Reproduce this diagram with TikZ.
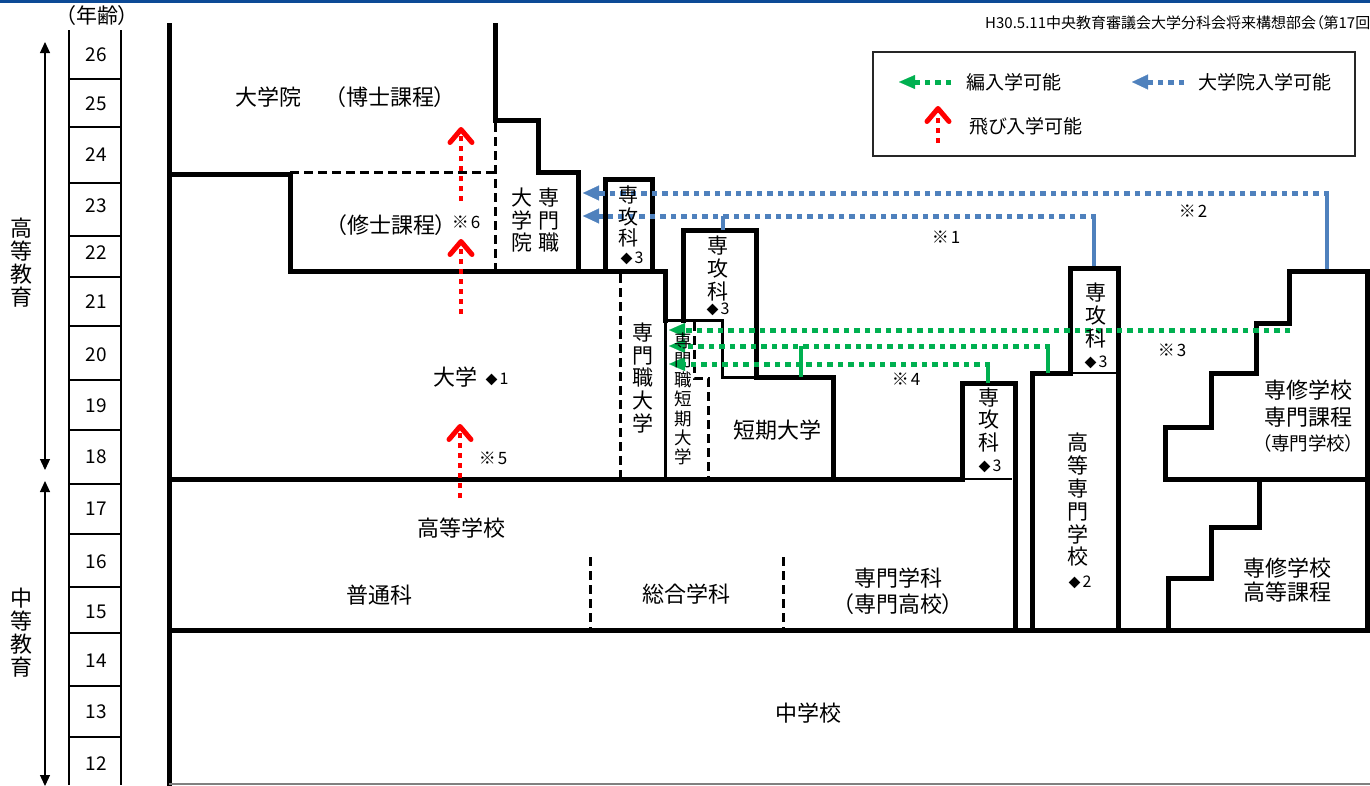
\documentclass[tikz,border=0pt]{standalone}
\usepackage{fontspec}
\setmainfont{Noto Sans CJK JP}[RawFeature=+palt]
\usetikzlibrary{arrows.meta}
\definecolor{bl}{RGB}{79,129,189}
\definecolor{gr}{RGB}{0,176,80}
\definecolor{rd}{RGB}{255,0,0}
\definecolor{topbar}{RGB}{12,74,150}
\newcommand{\dmd}[1]{{\fontsize{12}{12}\selectfont ◆}\kern2pt #1}
\newcommand{\kome}[1]{※\kern2pt #1}
\begin{document}
\begin{tikzpicture}[x=1pt,y=-1pt,
  wall/.style={line width=5pt, line cap=rect, line join=miter},
  midwall/.style={line width=3pt, line cap=rect},
  thinwall/.style={line width=1.6pt},
  dwall/.style={line width=3pt, dash pattern=on 9pt off 5pt},
  agecol/.style={line width=2.5pt},
  sepline/.style={line width=2pt},
  bflow/.style={draw=bl, line width=5pt, dash pattern=on 5.5pt off 5pt, -{Triangle[length=16pt,width=15pt,line width=0.1pt]}},
  gflow/.style={draw=gr, line width=5pt, dash pattern=on 5.5pt off 5pt, -{Triangle[length=16pt,width=14pt,line width=0.1pt]}},
  rflow/.style={draw=rd, line width=4.5pt, dash pattern=on 5pt off 5pt, -{Straight Barb[length=13pt,width=22pt,line width=5pt,round]}},
  bstem/.style={draw=bl, line width=4pt},
  gstem/.style={draw=gr, line width=4pt},
  eduarrow/.style={line width=1.2pt, {Triangle[length=11pt,width=10pt]}-{Triangle[length=11pt,width=10pt]}},
  lab/.style={inner sep=0pt, font=\fontsize{22}{24}\selectfont},
  num/.style={inner sep=0pt, font=\fontsize{19}{20}\selectfont},
  note/.style={inner sep=0pt, font=\fontsize{17}{18}\selectfont},
  dia/.style={inner sep=0pt, font=\fontsize{16}{16}\selectfont},
  leg/.style={inner sep=0pt, font=\fontsize{19}{20}\selectfont},
  vst/.style 2 args={inner sep=0pt, align=center, font=\fontsize{#1}{#2}\selectfont}
]
\useasboundingbox (0,0) rectangle (1370,785);
\fill[topbar] (0,0) rectangle (1370,3);

% ---------- age column ----------
\draw[agecol] (69,30) -- (69,785) (121,30) -- (121,785);
\foreach \y in {79,127,183,236,277,326,380,430,484,534,587,633,686,737}
  \draw[sepline] (69,\y) -- (121,\y);
\foreach \a/\y in {26/55,25/104,24/155,23/206,22/253,21/302,20/355,19/406,18/457,17/509,16/562,15/612,14/661,13/712,12/764}
  \node[num] (age\a) at (96,\y) {\a};
\node[inner sep=0pt, font=\fontsize{21}{22}\selectfont] (nenrei) at (97,16) {（年齢）};

\coordinate (e1t) at (45,42);
\coordinate (e1b) at (45,470);
\coordinate (e2t) at (45,481);
\coordinate (e2b) at (45,786);
\draw[eduarrow] (e1t) -- (e1b);
\draw[eduarrow] (e2t) -- (e2b);
\node[vst={22}{23}] (kotokyoiku) at (21,263) {高\\等\\教\\育};
\node[vst={22}{23}] (chutokyoiku) at (21,633) {中\\等\\教\\育};

% ---------- walls ----------
\draw[wall] (169,25) -- (169,785);
\draw[wall] (495,25) -- (495,120) -- (538,120) -- (538,172) -- (578,172) -- (578,271);
\draw[wall] (169,174) -- (290,174) -- (290,271) -- (665,271) -- (665,320);
\draw[wall] (605,271) -- (605,179) -- (652,179) -- (652,271);
\draw[wall] (683,320) -- (683,230) -- (756,230) -- (756,377) -- (833,377) -- (833,479);
\draw[midwall] (665,320) -- (665,479);
\draw[midwall] (665,320) -- (722,320) -- (722,377) -- (756,377);
\draw[dwall] (495,123) -- (495,271);
\draw[dwall] (290,172) -- (495,172);
\draw[dwall] (620,274) -- (620,479);
\draw[dwall] (694,322) -- (694,378) -- (708,378) -- (708,479);
\draw[wall] (169,479) -- (962,479);
\draw[wall] (962,479) -- (962,383) -- (1015,383) -- (1015,630);
\draw[thinwall] (962,479) -- (1012,479);
\draw[wall] (1032,630) -- (1032,373) -- (1070,373) -- (1070,268) -- (1118,268) -- (1118,630);
\draw[thinwall] (1070,373) -- (1118,373);
\draw[wall] (1367,630) -- (1367,271) -- (1289,271) -- (1289,323) -- (1256,323) -- (1256,373) -- (1211,373) -- (1211,427) -- (1165,427) -- (1165,479) -- (1367,479);
\draw[wall] (1259,479) -- (1259,527) -- (1211,527) -- (1211,578) -- (1168,578) -- (1168,630);
\draw[wall] (169,630) -- (1372,630);
\draw[dwall] (590,557) -- (590,630);
\draw[dwall] (783,557) -- (783,630);
\draw[gray, line width=1.5pt] (169,784) -- (1370,784);

% ---------- flows ----------
\coordinate (bA0) at (1327,269); \coordinate (bA1) at (1327,193); \coordinate (bAt) at (583,193);
\coordinate (bB0) at (1094,266); \coordinate (bB1) at (1094,216); \coordinate (bBt) at (583,216);
\coordinate (bC0) at (723,230);  \coordinate (bC1) at (723,216);
\draw[bstem] (bA0) -- (bA1);
\draw[bflow] ([xshift=2pt]bA1) -- (bAt);
\draw[bstem] (bB0) -- (bB1);
\draw[bflow] ([xshift=2pt]bB1) -- (bBt);
\draw[bstem] (bC0) -- (bC1);

\coordinate (gA0) at (1290,330); \coordinate (gAt) at (669,330);
\coordinate (gB0) at (1048,373); \coordinate (gB1) at (1048,346); \coordinate (gBt) at (669,346);
\coordinate (gC0) at (801,377);  \coordinate (gC1) at (801,346);
\coordinate (gD0) at (988,383);  \coordinate (gD1) at (988,364); \coordinate (gDt) at (669,364);
\draw[gflow] (gA0) -- (gAt);
\draw[gstem] (gB0) -- (gB1);
\draw[gflow] ([xshift=2pt]gB1) -- (gBt);
\draw[gstem] (gC0) -- (gC1);
\draw[gstem] (gD0) -- (gD1);
\draw[gflow] ([xshift=2pt]gD1) -- (gDt);

\coordinate (rA0) at (461,314); \coordinate (rAt) at (461,239);
\coordinate (rB0) at (461,201); \coordinate (rBt) at (461,127);
\coordinate (rC0) at (460,498); \coordinate (rCt) at (460,424);
\draw[rflow] (rA0) -- (rAt);
\draw[rflow] (rB0) -- (rBt);
\draw[rflow] (rC0) -- (rCt);

% ---------- labels ----------
\node[lab] (daigakuin) at (268,97) {大学院};
\node[lab] (hakushi) at (390,97) {（博士課程）};
\node[lab] (shushi) at (391,225) {（修士課程）};
\node[note] (k6) at (466,222) {\kome{6}};
\node[vst={21}{22.5}] (sdin1) at (522,220.5) {大\\学\\院};
\node[vst={21}{22.5}] (sdin2) at (549,220.5) {専\\門\\職};
\node[vst={20}{21.5}] (sk1) at (628,216.5) {専\\攻\\科};
\node[dia] (sk1d) at (632,258) {\dmd{3}};
\node[vst={21}{23}] (sk2) at (718,269) {専\\攻\\科};
\node[dia] (sk2d) at (718,309) {\dmd{3}};
\node[vst={21}{22.75}] (sdd) at (643,378) {専\\門\\職\\大\\学};
\node[vst={17.5}{19.4}] (sdt) at (683,399) {専\\門\\職\\短\\期\\大\\学};
\node[lab] (tanki) at (777,430) {短期大学};
\node[lab] (daigaku) at (455,377) {大学};
\node[dia] (daigakud) at (497,379) {\dmd{1}};
\node[note] (k5) at (493,458) {\kome{5}};
\node[vst={21}{22.5}] (sk3) at (989,420) {専\\攻\\科};
\node[dia] (sk3d) at (990,466) {\dmd{3}};
\node[vst={21}{23}] (sk4) at (1096,316) {専\\攻\\科};
\node[dia] (sk4d) at (1096,362) {\dmd{3}};
\node[vst={21}{22.8}] (kosen) at (1078,500) {高\\等\\専\\門\\学\\校};
\node[dia] (kosend) at (1080,582) {\dmd{2}};
\node[lab] (senshu1) at (1308,390) {専修学校};
\node[lab] (senmon1) at (1308,417) {専門課程};
\node[inner sep=0pt, font=\fontsize{18.5}{20}\selectfont] (senmon2) at (1308,443) {（専門学校）};
\node[lab] (senshu2) at (1287,568) {専修学校};
\node[lab] (koto2) at (1287,592) {高等課程};
\node[lab] (kokou) at (461,528) {高等学校};
\node[lab] (futsu) at (379,595) {普通科};
\node[lab] (sogo) at (686,594) {総合学科};
\node[lab] (senmong) at (898,578) {専門学科};
\node[lab] (senmonk) at (898,604) {（専門高校）};
\node[lab] (chugaku) at (808,713) {中学校};
\node[note] (k1) at (946,237) {\kome{1}};
\node[note] (k2) at (1193,211) {\kome{2}};
\node[note] (k3) at (1172,350) {\kome{3}};
\node[note] (k4) at (906,379) {\kome{4}};

% ---------- legend ----------
\node[draw=black!85, line width=1.5pt, minimum width=482pt, minimum height=104pt, inner sep=0pt] (legend) at (1114,104) {};
\coordinate (lg0) at (951,82); \coordinate (lgt) at (899,82);
\coordinate (lb0) at (1184,82); \coordinate (lbt) at (1132,82);
\coordinate (lr0) at (938,143); \coordinate (lrt) at (938,106);
\draw[gflow] (lg0) -- (lgt);
\draw[bflow] (lb0) -- (lbt);
\draw[rflow] (lr0) -- (lrt);
\node[leg] (lgtext) at (1014,82) {編入学可能};
\node[leg] (lbtext) at (1265,82) {大学院入学可能};
\node[leg] (lrtext) at (1026,126) {飛び入学可能};

% ---------- header ----------
\begin{scope}
\clip (0,0) rectangle (1370,785);
\node[anchor=west, inner sep=0pt, font=\fontsize{15}{16}\selectfont] (hdr) at (985,23) {H30.5.11中央教育審議会大学分科会将来構想部会（第17回};
\end{scope}
\end{tikzpicture}
\end{document}
